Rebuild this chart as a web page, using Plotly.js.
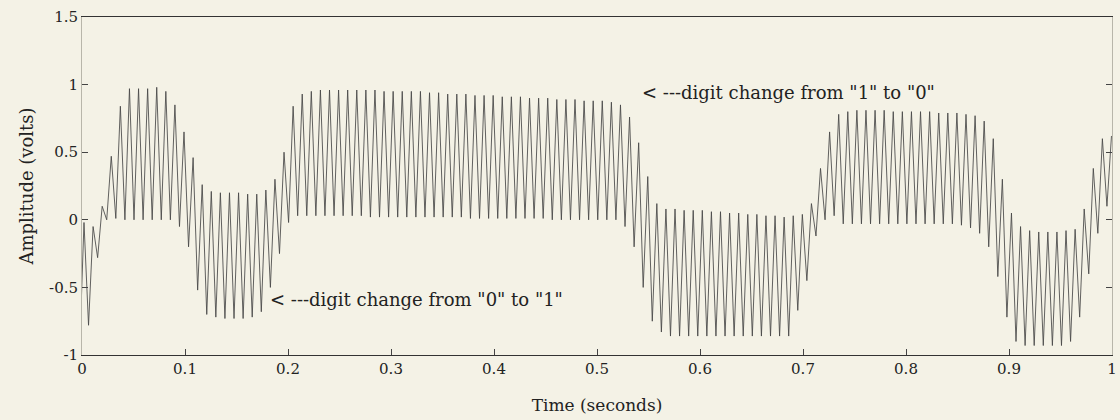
<!DOCTYPE html>
<html>
<head>
<meta charset="utf-8">
<script src="https://cdn.plot.ly/plotly-3.0.1.min.js"></script>
<style>
  html, body { margin: 0; padding: 0; background: #f4f2e6; }
  #chart { width: 1120px; height: 420px; }
</style>
</head>
<body>
<div id="chart"></div>
<script>
// Per-cycle upper extremes (volts)
const highs = [
  -0.02, -0.05, 0.1, 0.47, 0.84, 0.97, 0.97, 0.97, 0.98, 0.95,
  0.85, 0.65, 0.46, 0.26, 0.21, 0.2, 0.2, 0.2, 0.19, 0.19,
  0.22, 0.3, 0.5, 0.84, 0.93, 0.95, 0.96, 0.96, 0.96, 0.96,
  0.96, 0.96, 0.96, 0.95, 0.95, 0.95, 0.95, 0.95, 0.94, 0.94,
  0.93, 0.93, 0.93, 0.92, 0.92, 0.92, 0.91, 0.91, 0.91, 0.9,
  0.9, 0.9, 0.89, 0.89, 0.89, 0.88, 0.88, 0.88, 0.87, 0.85,
  0.76, 0.57, 0.32, 0.12, 0.08, 0.08, 0.07, 0.07, 0.07, 0.06,
  0.06, 0.05, 0.05, 0.04, 0.04, 0.03, 0.03, 0.02, 0.03, 0.04,
  0.12, 0.38, 0.65, 0.78, 0.8, 0.81, 0.81, 0.81, 0.81, 0.8,
  0.8, 0.8, 0.8, 0.8, 0.79, 0.79, 0.79, 0.78, 0.77, 0.73,
  0.6, 0.3, 0.05, -0.05, -0.08, -0.09, -0.09, -0.09, -0.08, -0.07,
  0.08, 0.38, 0.6, 0.62
];
// Per-cycle lower extremes (volts)
const lows = [
  -1.0, -0.78, -0.28, 0.0, 0.01, 0.0, 0.0, 0.0, 0.0, 0.0,
  0.0, -0.05, -0.2, -0.52, -0.7, -0.72, -0.73, -0.73, -0.73, -0.72,
  -0.68, -0.5, -0.25, -0.02, 0.03, 0.03, 0.03, 0.03, 0.03, 0.03,
  0.03, 0.03, 0.02, 0.02, 0.02, 0.02, 0.02, 0.02, 0.02, 0.02,
  0.02, 0.02, 0.02, 0.01, 0.01, 0.01, 0.01, 0.01, 0.01, 0.01,
  0.01, 0.01, 0.0, 0.0, 0.0, 0.0, 0.0, 0.0, 0.0, 0.0,
  -0.05, -0.2, -0.5, -0.75, -0.83, -0.86, -0.86, -0.86, -0.86, -0.86,
  -0.86, -0.86, -0.86, -0.86, -0.86, -0.86, -0.86, -0.86, -0.86, -0.67,
  -0.45, -0.12, 0.0, 0.03, -0.03, -0.03, -0.03, -0.03, -0.03, -0.03,
  -0.03, -0.03, -0.03, -0.03, -0.03, -0.03, -0.03, -0.04, -0.06, -0.1,
  -0.2, -0.42, -0.72, -0.9, -0.93, -0.93, -0.93, -0.93, -0.93, -0.9,
  -0.72, -0.4, -0.1, 0.1
];
// Sampling grid of the extremes (seconds)
const startTime = -0.00248;
const halfPeriod = 0.004414;

const xTickVals = [0, 0.1, 0.2, 0.3, 0.4, 0.5, 0.6, 0.7, 0.8, 0.9, 1];
const xTickText = ["0", "0.1", "0.2", "0.3", "0.4", "0.5", "0.6", "0.7", "0.8", "0.9", "1"];
const yTickVals = [-1, -0.5, 0, 0.5, 1, 1.5];
const yTickText = ["-1", "-0.5", "0", "0.5", "1", "1.5"];

const notes = [
  { t: 0.181, v: -0.59, text: '&lt; ---digit change from "0" to "1"' },
  { t: 0.542, v: 0.94, text: '&lt; ---digit change from "1" to "0"' }
];

const t = [], y = [];
for (let c = 0; c < highs.length; c++) {
  t.push(startTime + (2 * c) * halfPeriod); y.push(lows[c]);
  t.push(startTime + (2 * c + 1) * halfPeriod); y.push(highs[c]);
}

const serif = 'DejaVu Serif, Liberation Serif, serif';
const axisCommon = {
  showgrid: false, zeroline: false, showline: true,
  linewidth: 1, ticks: 'inside', ticklen: 6,
  tickcolor: '#444', tickfont: { family: serif, size: 15, color: '#222' }
};

Plotly.newPlot('chart', [{
  x: t, y: y, type: 'scatter', mode: 'lines',
  line: { color: 'rgba(70,70,70,0.85)', width: 1 },
  hoverinfo: 'skip'
}], {
  width: 1120, height: 420,
  paper_bgcolor: '#f4f2e6', plot_bgcolor: '#f4f2e6',
  margin: { l: 82, r: 8, t: 17, b: 65 },
  showlegend: false,
  xaxis: Object.assign({}, axisCommon, {
    mirror: true, linecolor: '#333',
    range: [0, 1], tickvals: xTickVals, ticktext: xTickText,
    title: { text: 'Time (seconds)', font: { family: serif, size: 17, color: '#222' }, standoff: 22 }
  }),
  yaxis: Object.assign({}, axisCommon, {
    mirror: 'ticks', linecolor: '#b8b6aa',
    range: [-1, 1.5], tickvals: yTickVals, ticktext: yTickText,
    title: { text: 'Amplitude (volts)', font: { family: serif, size: 18, color: '#222' }, standoff: 10 }
  }),
  annotations: notes.map(n => ({
    x: n.t, y: n.v, xref: 'x', yref: 'y', text: n.text, showarrow: false,
    xanchor: 'left', yanchor: 'middle',
    font: { family: serif, size: 18, color: '#222' }
  }))
}, { displayModeBar: false, staticPlot: true });
</script>
</body>
</html>
